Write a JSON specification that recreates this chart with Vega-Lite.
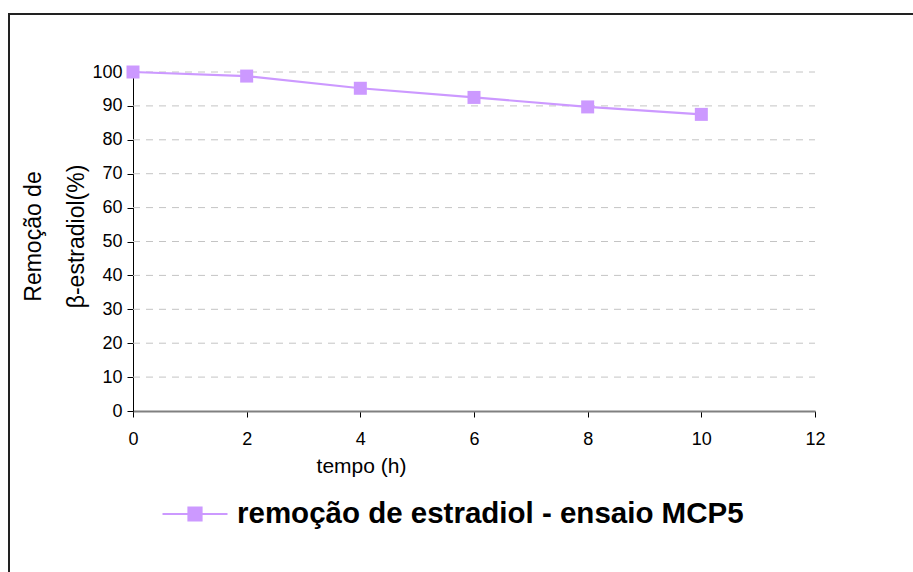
{
  "$schema": "https://vega.github.io/schema/vega-lite/v6.json",
  "width": 910,
  "height": 565,
  "autosize": "none",
  "padding": {"left": 9, "top": 14, "right": 0, "bottom": 0},
  "background": "white",
  "config": {
    "view": {"stroke": "#222222", "strokeWidth": 2},
    "font": "Liberation Sans"
  },
  "datasets": {
    "grid": [{"g": 10}, {"g": 20}, {"g": 30}, {"g": 40}, {"g": 50}, {"g": 60}, {"g": 70}, {"g": 80}, {"g": 90}, {"g": 100}],
    "main": [
      {"tempo": 0, "remocao": 100, "serie": "remoção de estradiol - ensaio MCP5"},
      {"tempo": 2, "remocao": 98.8, "serie": "remoção de estradiol - ensaio MCP5"},
      {"tempo": 4, "remocao": 95.2, "serie": "remoção de estradiol - ensaio MCP5"},
      {"tempo": 6, "remocao": 92.5, "serie": "remoção de estradiol - ensaio MCP5"},
      {"tempo": 8, "remocao": 89.7, "serie": "remoção de estradiol - ensaio MCP5"},
      {"tempo": 10, "remocao": 87.5, "serie": "remoção de estradiol - ensaio MCP5"}
    ]
  },
  "layer": [
    {
      "data": {"name": "grid"},
      "mark": {"type": "rule", "color": "#c4c4c4", "strokeWidth": 1, "strokeDash": [7, 6]},
      "encoding": {
        "x": {"datum": 0, "type": "quantitative", "scale": {"domain": [0, 12], "range": [124, 806], "nice": false}},
        "x2": {"datum": 12},
        "y": {"field": "g", "type": "quantitative", "scale": {"domain": [0, 100], "range": [397, 58], "nice": false}}
      }
    },
    {
      "data": {"name": "main"},
      "mark": {"type": "line", "strokeWidth": 2.2, "point": {"shape": "square", "size": 169, "filled": true, "opacity": 1}},
      "encoding": {
        "x": {
          "field": "tempo", "type": "quantitative",
          "scale": {"domain": [0, 12], "range": [124, 806], "nice": false},
          "axis": {
            "values": [0, 2, 4, 6, 8, 10, 12],
            "format": "d",
            "offset": -168,
            "grid": false,
            "domainColor": "#808080", "domainWidth": 2,
            "tickColor": "#000000", "tickSize": 6,
            "labelFont": "Liberation Sans", "labelFontSize": 18, "labelColor": "#000000", "labelPadding": 13,
            "labelFlush": false,
            "title": "tempo (h)", "titleFont": "Liberation Sans", "titleFontSize": 21, "titleFontWeight": "normal", "titleColor": "#000000",
            "titleX": 352, "titleY": 44, "titleBaseline": "top", "titleAlign": "center"
          }
        },
        "y": {
          "field": "remocao", "type": "quantitative",
          "scale": {"domain": [0, 100], "range": [397, 58], "nice": false},
          "axis": {
            "values": [0, 10, 20, 30, 40, 50, 60, 70, 80, 90, 100],
            "format": "d",
            "offset": -124,
            "grid": false,
            "domainColor": "#000000", "domainWidth": 1,
            "tickColor": "#000000", "tickSize": 6,
            "labelFont": "Liberation Sans", "labelFontSize": 18, "labelColor": "#000000", "labelPadding": 5,
            "labelFlush": false,
            "title": ["Remoção de", "β-estradiol(%)"],
            "titleFont": "Liberation Sans", "titleFontSize": 23, "titleFontWeight": "normal", "titleColor": "#000000",
            "titleLineHeight": 43, "titleAngle": -90,
            "titleX": -111, "titleY": 222, "titleBaseline": "top", "titleAlign": "center"
          }
        },
        "color": {
          "field": "serie", "type": "nominal",
          "scale": {"range": ["#CC99FF"]},
          "legend": {
            "orient": "none", "legendX": 152, "legendY": 466, "title": null,
            "symbolType": "M-1,0H-0.2M0.2,0H1M-0.2,-0.2H0.2V0.2H-0.2Z",
            "symbolSize": 4225, "symbolStrokeWidth": 2.2, "symbolFillColor": "#CC99FF", "symbolStrokeColor": "#CC99FF",
            "labelFont": "Liberation Sans", "labelFontSize": 29.5, "labelFontWeight": "bold", "labelColor": "#000000",
            "labelOffset": 8, "labelLimit": 800
          }
        }
      }
    }
  ]
}
